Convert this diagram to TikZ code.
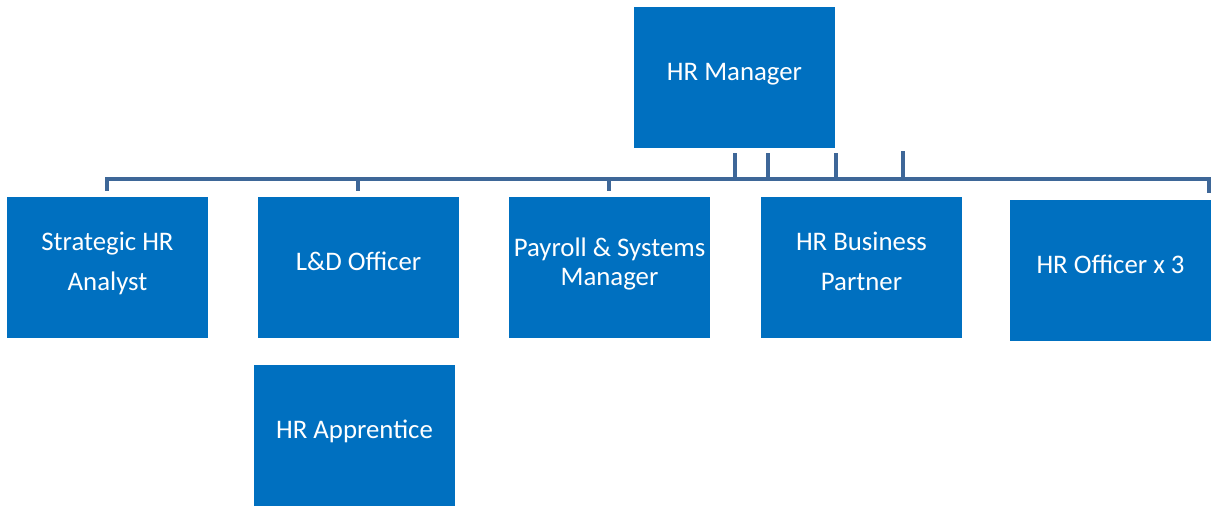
\documentclass[tikz,border=0pt]{standalone}
\usepackage{fontspec}
\setmainfont{Carlito}
\definecolor{boxblue}{RGB}{0,112,192}
\definecolor{linkblue}{RGB}{62,103,152}
% box label: centred in the 201x141 box, lifted a little above the middle
\newcommand\orgtext[1]{\parbox[c][141pt][c]{201pt}{\centering\strut #1\strut\par\vspace*{10pt}}}
\begin{document}
\begin{tikzpicture}[x=1pt,y=-1pt,
  orgbox/.style={fill=boxblue,draw=none,minimum width=201pt,minimum height=141pt,
    inner sep=0pt,text=white,font=\fontsize{26.8}{40}\selectfont},
  link/.style={draw=linkblue,line width=4pt,line join=miter}]
\useasboundingbox (0,0) rectangle (1211,507);
% boxes
\node[orgbox] (mgr) at (734.5,77.5) {\orgtext{HR Manager}};
\node[orgbox] (shr) at (107.5,267) {\orgtext{Strategic HR\\Analyst}};
\node[orgbox] (ld)  at (358.5,267) {\orgtext{L\&D Officer}};
\node[orgbox,font=\fontsize{26.8}{29}\selectfont] (psm) at (609.5,267) {\orgtext{Payroll \& Systems\\Manager\vspace*{-6pt}}};
\node[orgbox] (hbp) at (861.5,267) {\orgtext{HR Business\\Partner}};
\node[orgbox] (hro) at (1110.5,270) {\orgtext{HR Officer x 3}};
\node[orgbox] (hra) at (354.5,435) {\orgtext{HR Apprentice}};
% connector bar and tick ends
\coordinate (bar) at (0,179);
\coordinate (t1) at (735,153);
\coordinate (t2) at (768,153);
\coordinate (t3) at (836,153);
\coordinate (t4) at (903,151);
\coordinate (c1) at (107,191);
\coordinate (c2) at (358,191);
\coordinate (c3) at (609,191);
\coordinate (c4) at (1209,193);
\draw[link] (t4) -- (t4 |- bar) -- (c1 |- bar) -- (c1);
\draw[link] (t2) -- (t2 |- bar) -- (c2 |- bar) -- (c2);
\draw[link] (t3) -- (t3 |- bar) -- (c3 |- bar) -- (c3);
\draw[link] (t1) -- (t1 |- bar) -- (c4 |- bar) -- (c4);
\end{tikzpicture}
\end{document}
